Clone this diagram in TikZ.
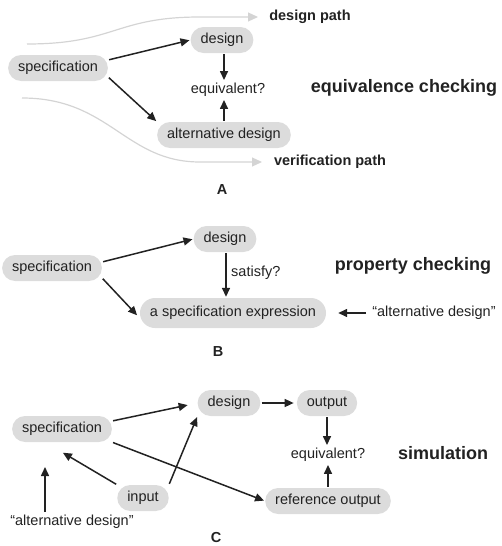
\documentclass[tikz,border=0pt]{standalone}
\usepackage{fontspec}
\setmainfont{Liberation Sans}
\usetikzlibrary{arrows.meta}
\definecolor{boxfill}{HTML}{DCDCDC}
\definecolor{ink}{HTML}{222222}
\definecolor{pathgray}{HTML}{D4D4D4}
\tikzset{
  box/.style={fill=boxfill, rounded corners=13pt, minimum height=26pt, inner xsep=10pt, inner ysep=2pt, text=ink, font=\fontsize{14.5}{16}\selectfont},
  lbl/.style={text=ink, font=\fontsize{14.5}{16}\selectfont, inner sep=2pt},
  big/.style={text=ink, font=\fontsize{18}{20}\selectfont\bfseries, inner sep=0pt},
  mid/.style={text=ink, font=\fontsize{14.5}{16}\selectfont\bfseries, inner sep=0pt},
  arr/.style={draw=ink, line width=1.5pt, -{Triangle[length=9pt,width=8pt]}, shorten >=1pt, shorten <=1pt},
  gpath/.style={draw=pathgray, line width=1.2pt, -{Triangle[length=10pt,width=9pt,fill=pathgray]}}
}
\begin{document}
\begin{tikzpicture}[x=1pt,y=-1pt]
\path[use as bounding box] (0,0) rectangle (501,546);
% ---------- Panel A ----------
\coordinate (gtA0) at (27,44);
\coordinate (gtA1) at (258,17);
\coordinate (gbA0) at (22,98);
\coordinate (gbA1) at (262,162);
\draw[gpath] (gtA0) .. controls (115,44) and (115,17) .. (200,17) -- (gtA1);
\draw[gpath] (gbA0) .. controls (110,98) and (125,162) .. (200,162) -- (gbA1);
\node[box] (specA) at (58,68) {specification};
\node[box] (designA) at (222,40) {design};
\node[lbl] (eqA) at (228,90) {equivalent?};
\node[box] (altA) at (224,135) {alternative design};
\node[mid] (dpath) at (310,17) {design path};
\node[mid] (vpath) at (330,162) {verification path};
\node[big] (eqcheck) at (404,88) {equivalence checking};
\node[mid] (labA) at (222,190) {A};
\draw[arr] ([yshift=8pt]specA.east) -- (designA.west);
\draw[arr] ([yshift=-9pt]specA.east) -- (altA.north west);
\draw[arr] ([xshift=2pt]designA.south) -- ([xshift=2pt]designA.south |- eqA.north);
\draw[arr] (altA.north) -- (altA.north |- eqA.south);
% ---------- Panel B ----------
\node[box] (specB) at (52,268) {specification};
\node[box] (designB) at (225,239) {design};
\node[box, minimum height=30pt, rounded corners=15pt] (exprB) at (233,313) {a specification expression};
\node[lbl, anchor=west] (satB) at (229,273) {satisfy?};
\node[big] (propcheck) at (413,266) {property checking};
\node[lbl] (altB) at (434,313) {“alternative design”};
\node[mid] (labB) at (218,352) {B};
\draw[arr] ([yshift=6pt]specB.east) -- (designB.west);
\draw[arr] ([yshift=-10pt]specB.east) -- ([xshift=-2pt,yshift=-3pt]exprB.west);
\draw[arr] ([xshift=1pt]designB.south) -- ([xshift=1pt]designB.south |- exprB.north);
\draw[arr, shorten >=12pt, shorten <=4pt] (altB.west) -- (exprB.east);
% ---------- Panel C ----------
\node[box] (specC) at (62,429) {specification};
\node[box] (designC) at (229,403) {design};
\node[box] (outC) at (327,403) {output};
\node[lbl] (eqC) at (328,455) {equivalent?};
\node[box] (refC) at (328,501) {reference output};
\node[box] (inC) at (143,498) {input};
\node[big] (simul) at (443,453) {simulation};
\node[lbl] (altC) at (72,522) {“alternative design”};
\node[mid] (labC) at (216,538) {C};
\coordinate (altCup) at (45,466);
\draw[arr, shorten >=10pt] ([yshift=8pt]specC.east) -- (designC.west);
\draw[arr, shorten >=3pt] (designC.east) -- (outC.west);
\draw[arr] (outC.south) -- (outC.south |- eqC.north);
\draw[arr] (refC.north) -- (refC.north |- eqC.south);
\draw[arr] (inC.north west) -- ([yshift=-10pt]specC.south);
\draw[arr] (inC.north east) -- (designC.south west);
\draw[arr] (specC.south east) -- (refC.west);
\draw[arr] ([xshift=-27pt]altC.north) -- (altCup);
\end{tikzpicture}
\end{document}
